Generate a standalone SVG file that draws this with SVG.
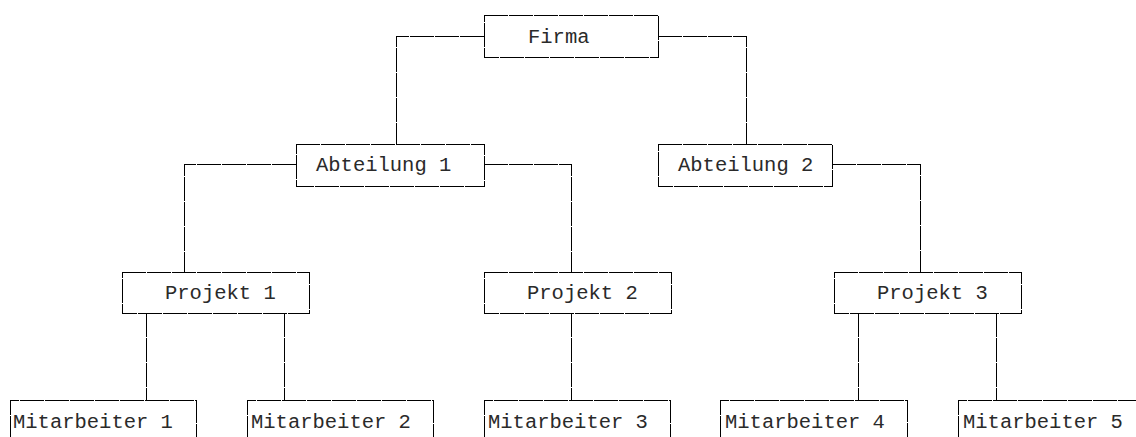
<svg xmlns="http://www.w3.org/2000/svg" width="1136" height="437" viewBox="0 0 1136 437">
  <style>
    .edge, .box, .open { stroke: #000000; stroke-width: 1; stroke-dasharray: 24 1; shape-rendering: crispEdges; }
    .edge, .open { fill: none; }
    .box { fill: #ffffff; }
    .label { font-family: "Liberation Mono", "Courier New", monospace; font-size: 20.5px; fill: #2a2a2a; }
  </style>
  <rect width="1136" height="437" fill="#ffffff"/>

  <!-- connectors -->
  <g id="connectors">
    <path class="edge" d="M484,36 H396 V144"/>
    <path class="edge" d="M658,36 H746 V144"/>
    <path class="edge" d="M296,164 H184 V272"/>
    <path class="edge" d="M484,164 H571 V272"/>
    <path class="edge" d="M832,164 H920 V272"/>
    <path class="edge" d="M146,313 V400"/>
    <path class="edge" d="M284,313 V400"/>
    <path class="edge" d="M571,313 V400"/>
    <path class="edge" d="M858,313 V400"/>
    <path class="edge" d="M996,313 V400"/>
  </g>

  <!-- company -->
  <g id="firma">
    <rect class="box" x="484" y="15" width="174" height="42"/>
    <text class="label" x="528" y="43">Firma</text>
  </g>

  <!-- departments -->
  <g id="abteilung1">
    <rect class="box" x="296" y="144" width="188" height="42"/>
    <text class="label" x="316" y="171">Abteilung 1</text>
  </g>
  <g id="abteilung2">
    <rect class="box" x="658" y="144" width="174" height="42"/>
    <text class="label" x="678" y="171">Abteilung 2</text>
  </g>

  <!-- projects -->
  <g id="projekt1">
    <rect class="box" x="122" y="272" width="187" height="41"/>
    <text class="label" x="165" y="299">Projekt 1</text>
  </g>
  <g id="projekt2">
    <rect class="box" x="484" y="272" width="187" height="41"/>
    <text class="label" x="527" y="299">Projekt 2</text>
  </g>
  <g id="projekt3">
    <rect class="box" x="834" y="272" width="187" height="41"/>
    <text class="label" x="877" y="299">Projekt 3</text>
  </g>

  <!-- employees (boxes run past the bottom edge) -->
  <g id="mitarbeiter1">
    <path class="open" d="M10,440 V400 H196 V440"/>
    <text class="label" x="13" y="428">Mitarbeiter 1</text>
  </g>
  <g id="mitarbeiter2">
    <path class="open" d="M247,440 V400 H433 V440"/>
    <text class="label" x="251" y="428">Mitarbeiter 2</text>
  </g>
  <g id="mitarbeiter3">
    <path class="open" d="M484,440 V400 H670 V440"/>
    <text class="label" x="488" y="428">Mitarbeiter 3</text>
  </g>
  <g id="mitarbeiter4">
    <path class="open" d="M720,440 V400 H907 V440"/>
    <text class="label" x="725" y="428">Mitarbeiter 4</text>
  </g>
  <g id="mitarbeiter5">
    <path class="open" d="M958,440 V400 H1144 V440"/>
    <text class="label" x="963" y="428">Mitarbeiter 5</text>
  </g>
</svg>
